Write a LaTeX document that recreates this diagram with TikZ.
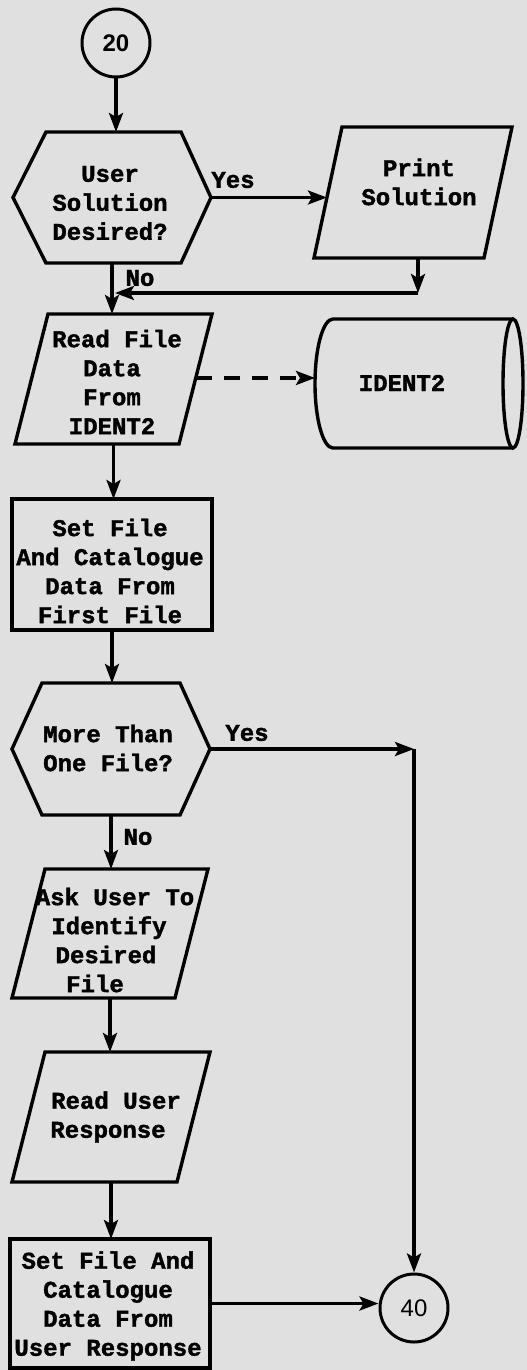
\documentclass[tikz,border=0pt]{standalone}
\usepackage{fontspec}
\newfontfamily\tw{Liberation Mono}[BoldFeatures={FakeBold=1.6}]
\newfontfamily\numf{Liberation Sans}
\usetikzlibrary{calc,arrows.meta}
\definecolor{paper}{RGB}{224,224,224}
\begin{document}
\begin{tikzpicture}[x=1pt,y=1pt,
  bb/.style={rectangle, inner sep=0pt, outer sep=0pt},
  ol/.style={draw=black, line width=3.4pt, line join=miter},
  txt/.style={align=center, inner sep=0pt, font=\tw\bfseries\fontsize{24}{29}\selectfont},
  lbl/.style={inner sep=0pt, font=\tw\bfseries\fontsize{24}{29}\selectfont},
  circ/.style={circle, draw, line width=3pt, minimum size=68pt, inner sep=0pt, font=\numf\fontsize{24}{28}\selectfont},
  arr/.style={line width=3.4pt, -{Stealth[length=19pt,width=14pt,inset=4pt]}},
  dsh/.style={dash pattern=on 16pt off 12pt},
]
\fill[paper] (0,0) rectangle (527,-1370);
\useasboundingbox (0,0) rectangle (527,-1370);

% connector 20
\node[circ, font=\numf\bfseries\fontsize{24}{28}\selectfont] (c20) at (116,-43) {20};

% decision 1
\node[bb, minimum width=198pt, minimum height=131pt] (h1) at (112,-197.5) {};
\draw[ol] (h1.west) -- ($(h1.north west)+(33,0)$) -- ($(h1.north east)+(-30,0)$) -- (h1.east)
  -- ($(h1.south east)+(-30,0)$) -- ($(h1.south west)+(33,0)$) -- cycle;
\node[txt] (h1T) at (110,-203) {User\\Solution\\Desired?};

% print solution
\node[bb, minimum width=198pt, minimum height=131pt] (ps) at (413,-192.5) {};
\coordinate (psNW) at ($(ps.north west)+(28,0)$);
\coordinate (psSE) at ($(ps.south east)+(-28,0)$);
\draw[ol] (psNW) -- (ps.north east) -- (psSE) -- (ps.south west) -- cycle;
\node[txt] (psT) at (419,-182) {Print\\Solution};

% read file data
\node[bb, minimum width=197pt, minimum height=130pt] (rf) at (113.5,-379) {};
\coordinate (rfNW) at ($(rf.north west)+(33,0)$);
\coordinate (rfSE) at ($(rf.south east)+(-33,0)$);
\draw[ol] (rfNW) -- (rf.north east) -- (rfSE) -- (rf.south west) -- cycle;
\node[txt] (rfT) at (112,-382) {\hspace*{10pt}Read File\\Data\\From\\IDENT2};

% IDENT2 storage
\node[bb, minimum width=208pt, minimum height=129pt] (ident) at (419,-383.5) {};
\draw[ol] ($(ident.north east)+(-10,0)$) -- ($(ident.north west)+(18,0)$)
  arc[start angle=90, end angle=270, x radius=18pt, y radius=64.5pt]
  -- ($(ident.south east)+(-10,0)$);
\draw[ol] ($(ident.east)+(-10,0)$) ellipse [x radius=10pt, y radius=64.5pt];
\node[txt] (identT) at (402,-383) {IDENT2};

% set file 1
\node[bb, draw, line width=3.4pt, minimum width=200pt, minimum height=131pt] (sf1) at (112,-564.5) {};
\node[txt] (sf1T) at (110,-571) {Set File\\And Catalogue\\Data From\\First File};

% decision 2
\node[bb, minimum width=198pt, minimum height=132pt] (h2) at (111,-749) {};
\draw[ol] (h2.west) -- ($(h2.north west)+(30,0)$) -- ($(h2.north east)+(-30,0)$) -- (h2.east)
  -- ($(h2.south east)+(-30,0)$) -- ($(h2.south west)+(30,0)$) -- cycle;
\node[txt] (h2T) at (108,-748) {More Than\\One File?};

% ask user
\node[bb, minimum width=196pt, minimum height=129pt] (ask) at (110,-933.5) {};
\coordinate (askNW) at ($(ask.north west)+(33,0)$);
\coordinate (askSE) at ($(ask.south east)+(-33,0)$);
\draw[ol] (askNW) -- (ask.north east) -- (askSE) -- (ask.south west) -- cycle;
\node[txt] (askT) at (106,-940) {\hspace*{18pt}Ask User To\\\hspace*{6pt}Identify\\Desired\hspace*{8pt}\\File\hspace*{22pt}};

% read user response
\node[bb, minimum width=198pt, minimum height=130pt] (ru) at (111,-1117) {};
\coordinate (ruNW) at ($(ru.north west)+(33,0)$);
\coordinate (ruSE) at ($(ru.south east)+(-33,0)$);
\draw[ol] (ruNW) -- (ru.north east) -- (ruSE) -- (ru.south west) -- cycle;
\node[txt] (ruT) at (112,-1117) {\hspace*{8pt}Read User\\Response\hspace*{8pt}};

% set file 2
\node[bb, draw, line width=3.4pt, minimum width=200pt, minimum height=129pt] (sf2) at (110,-1303.5) {};
\node[txt] (sf2T) at (108,-1306) {Set File And\\Catalogue\\Data From\\User Response};

% connector 40
\node[circ] (c40) at (414,-1308) {40};

% connectors
\draw[arr] (c20.south) -- (c20.south |- h1.north);
\coordinate (psIn) at ($(psNW)!0.538!(ps.south west)$);
\draw[arr] (h1.east) -- (h1.east -| psIn);
\coordinate (psOut) at ($(ps.south)+(5,0)$);
\coordinate (j1) at ($(ps.south)+(5,-35)$);
\draw[arr] (psOut) -- (j1);
\draw[arr] (j1) -- ($(h1.south |- j1)+(3,0)$);
\draw[arr] (h1.south) -- (h1.south |- rf.north);
\node[lbl] (yes1) at (233,-180) {Yes};
\node[lbl] (no1) at (140,-278) {No};

\coordinate (rfOut) at ($(rf.north east)!0.492!(rfSE)$);
\draw[arr, dsh] (rfOut) -- (rfOut -| ident.west);

\draw[arr] (rf.south) -- (rf.south |- sf1.north);
\draw[arr] (sf1.south) -- (sf1.south |- h2.north);

\coordinate (k1) at (c40.north |- h2.east);
\draw[arr] (h2.east) -- (k1);
\draw[arr] (k1) -- (c40.north);
\node[lbl] (yes2) at (247,-733) {Yes};

\draw[arr] (h2.south) -- (h2.south |- ask.north);
\node[lbl] (no2) at (138,-837) {No};

\draw[arr] (ask.south) -- (ask.south |- ru.north);
\draw[arr] (ru.south) -- (ru.south |- sf2.north);
\draw[arr] (sf2.east) -- (sf2.east -| c40.west);
\end{tikzpicture}
\end{document}
